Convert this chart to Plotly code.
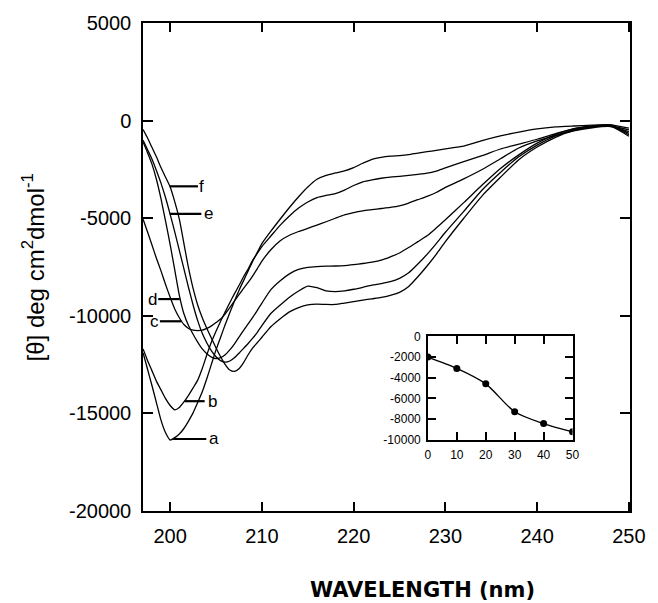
import plotly.graph_objects as go

wavelength = [197.05, 197.5, 198, 198.5, 199, 199.5, 200, 200.5, 201, 201.5, 202, 202.5,
              203, 203.5, 204, 204.5, 205, 205.5, 206, 206.5, 207, 207.5, 208, 208.5,
              209, 209.5, 210, 211, 212, 213, 214, 215, 216, 217, 218, 219, 220, 221,
              222, 223, 224, 225, 226, 227, 228, 229, 230, 232, 234, 236, 238, 240,
              242, 244, 246, 248, 250]

theta_a = [-11900, -12680, -13550, -14450, -15350, -16000, -16370, -16250, -16060, -15780,
           -15400, -14980, -14450, -13900, -13220, -12480, -11750, -11100, -10450, -9850,
           -9250, -8700, -8200, -7700, -7200, -6750, -6300, -5650, -5040, -4450, -3900,
           -3400, -3000, -2800, -2680, -2570, -2400, -2180, -1980, -1880, -1820, -1790,
           -1740, -1660, -1590, -1520, -1440, -1300, -1020, -780, -580, -420, -320, -270,
           -230, -210, -380]

theta_b = [-11700, -12250, -12800, -13350, -13800, -14250, -14600, -14820, -14700, -14420,
           -14080, -13700, -13300, -12700, -12000, -11350, -10800, -10280, -9800, -9330,
           -8880, -8450, -8000, -7600, -7150, -6800, -6450, -5900, -5350, -4880, -4480,
           -4170, -3940, -3830, -3740, -3560, -3320, -3130, -3030, -2950, -2890, -2850,
           -2800, -2750, -2690, -2580, -2420, -2100, -1790, -1450, -1200, -950, -660, -420,
           -310, -270, -470]

theta_c = [-5050, -5650, -6350, -7050, -7700, -8400, -9050, -9650, -10100, -10450,
           -10650, -10740, -10760, -10740, -10650, -10520, -10350, -10170, -9900, -9580,
           -9250, -8920, -8600, -8290, -7950, -7580, -7200, -6600, -6150, -5870, -5680,
           -5520, -5350, -5180, -5000, -4830, -4710, -4620, -4560, -4500, -4440, -4360,
           -4220, -4050, -3880, -3680, -3420, -2980, -2500, -1950, -1400, -1030, -760, -520,
           -360, -300, -560]

theta_d = [-1100, -1600, -2200, -3000, -4000, -5150, -6350, -7650, -8950, -9900,
           -10500, -10950, -11350, -11700, -11950, -12120, -12200, -12150, -12000, -11750,
           -11450, -11100, -10750, -10420, -10080, -9720, -9350, -8650, -8200, -7850, -7620,
           -7520, -7480, -7460, -7450, -7430, -7380, -7320, -7250, -7150, -6980, -6780,
           -6500, -6200, -5900, -5500, -5080, -4200, -3300, -2450, -1750, -1150, -700, -400,
           -260, -220, -650]

theta_e = [-1000, -1450, -1950, -2550, -3200, -3950, -4800, -5700, -6650, -7600,
           -8550, -9450, -10250, -10900, -11400, -11800, -12100, -12300, -12380, -12320,
           -12150, -11920, -11670, -11420, -11150, -10850, -10500, -9870, -9450, -9050, -8730,
           -8480, -8560, -8720, -8760, -8720, -8640, -8540, -8430, -8350, -8250, -8080,
           -7800, -7350, -6850, -6300, -5720, -4650, -3550, -2650, -1850, -1250, -780, -460,
           -300, -260, -720]

theta_f = [-450, -850, -1350, -1850, -2400, -2900, -3400, -4150, -5050, -6300,
           -7550, -8600, -9450, -10100, -10650, -11150, -11650, -12100, -12500, -12780,
           -12850, -12720, -12400, -12000, -11650, -11380, -11100, -10550, -10150, -9800, -9580,
           -9440, -9400, -9420, -9420, -9350, -9280, -9200, -9130, -9060, -8950, -8800,
           -8500, -8000, -7450, -6850, -6200, -5000, -3850, -2900, -2000, -1350, -850, -500,
           -320, -280, -800]

series_names = ["a", "b", "c", "d", "e", "f"]

# curve labels: leader line at label_y from label_x0 to label_x1, text centred at label_text_x
label_y = [-16318, -14380, -10283, -9144, -4775, -3364]
label_x0 = [200.32, 201.59, 198.88, 198.70, 199.96, 199.96]
label_x1 = [203.94, 203.76, 201.23, 201.05, 203.40, 203.03]
label_text_x = [204.75, 204.57, 198.25, 198.07, 204.20, 203.45]

# inset: theta at 222 nm vs percentage
inset_x = [0, 10, 20, 30, 40, 50]
inset_y = [-2000, -3100, -4600, -7300, -8450, -9250]

x_ticks = [200, 210, 220, 230, 240, 250]
y_ticks = [5000, 0, -5000, -10000, -15000, -20000]
inset_x_ticks = [0, 10, 20, 30, 40, 50]
inset_y_ticks = [0, -2000, -4000, -6000, -8000, -10000]

fig = go.Figure()
all_theta = [theta_a, theta_b, theta_c, theta_d, theta_e, theta_f]
for name, th in zip(series_names, all_theta):
    fig.add_trace(go.Scatter(x=wavelength, y=th, mode="lines", name=name,
                             line=dict(color="black", width=1.3, shape="spline", smoothing=0.6),
                             showlegend=False, hoverinfo="skip"))

fig.add_trace(go.Scatter(x=inset_x, y=inset_y, mode="lines+markers", xaxis="x2", yaxis="y2",
                         line=dict(color="black", width=1.3, shape="spline", smoothing=0.8),
                         marker=dict(color="black", size=7), showlegend=False))

for name, ly, x0, x1, tx in zip(series_names, label_y, label_x0, label_x1, label_text_x):
    fig.add_shape(type="line", xref="x", yref="y", x0=x0, x1=x1, y0=ly, y1=ly,
                  line=dict(color="black", width=2.2))
    fig.add_annotation(x=tx, y=ly, xref="x", yref="y", text=name, showarrow=False,
                       xanchor="center", yanchor="middle",
                       font=dict(family="Liberation Sans, Arial", size=17, color="black"))

axis_common = dict(showgrid=False, zeroline=False, showline=True, linecolor="black",
                   linewidth=1.5, mirror="ticks", ticks="inside", tickcolor="black",
                   tickwidth=1.5)

fig.update_layout(
    width=658, height=603,
    margin=dict(l=143, r=26, t=21, b=92),
    paper_bgcolor="white", plot_bgcolor="white",
    xaxis=dict(range=[197.04, 250.12], tickvals=x_ticks, ticktext=[str(v) for v in x_ticks],
               ticklen=9, ticklabelstandoff=6,
               tickfont=dict(family="Liberation Sans, Arial", size=20, color="black"),
               **axis_common),
    yaxis=dict(range=[-20010, 5010], tickvals=y_ticks, ticktext=[str(v) for v in y_ticks],
               ticklen=10, ticklabelstandoff=6,
               tickfont=dict(family="Liberation Sans, Arial", size=20, color="black"),
               **axis_common),
    xaxis2=dict(domain=[0.585, 0.882], anchor="y2", range=[0, 50], tickvals=inset_x_ticks,
                ticktext=[str(v) for v in inset_x_ticks], ticklen=8, ticklabelstandoff=3,
                tickfont=dict(family="Liberation Sans, Arial", size=12, color="black"),
                **axis_common),
    yaxis2=dict(domain=[0.1463, 0.3578], anchor="x2", range=[-10000, 0], tickvals=inset_y_ticks,
                ticktext=[str(v) for v in inset_y_ticks], ticklen=8, ticklabelstandoff=3,
                tickfont=dict(family="Liberation Sans, Arial", size=12, color="black"),
                **axis_common),
)

fig.add_annotation(x=0.5746, y=-0.161, xref="paper", yref="paper",
                   text="<b>WAVELENGTH (nm)</b>", showarrow=False,
                   xanchor="center", yanchor="middle",
                   font=dict(family="DejaVu Sans", size=21, color="black"))
fig.add_annotation(x=-0.225, y=0.5, xref="paper", yref="paper", textangle=-90,
                   text="[θ] deg cm<sup>2</sup>dmol<sup>-1</sup>", showarrow=False,
                   xanchor="center", yanchor="middle",
                   font=dict(family="Liberation Sans, Arial", size=24, color="black"))

fig.write_html("out.html", config={"displayModeBar": False},
               post_script="document.body.style.margin='0';document.body.style.overflow='hidden';")
